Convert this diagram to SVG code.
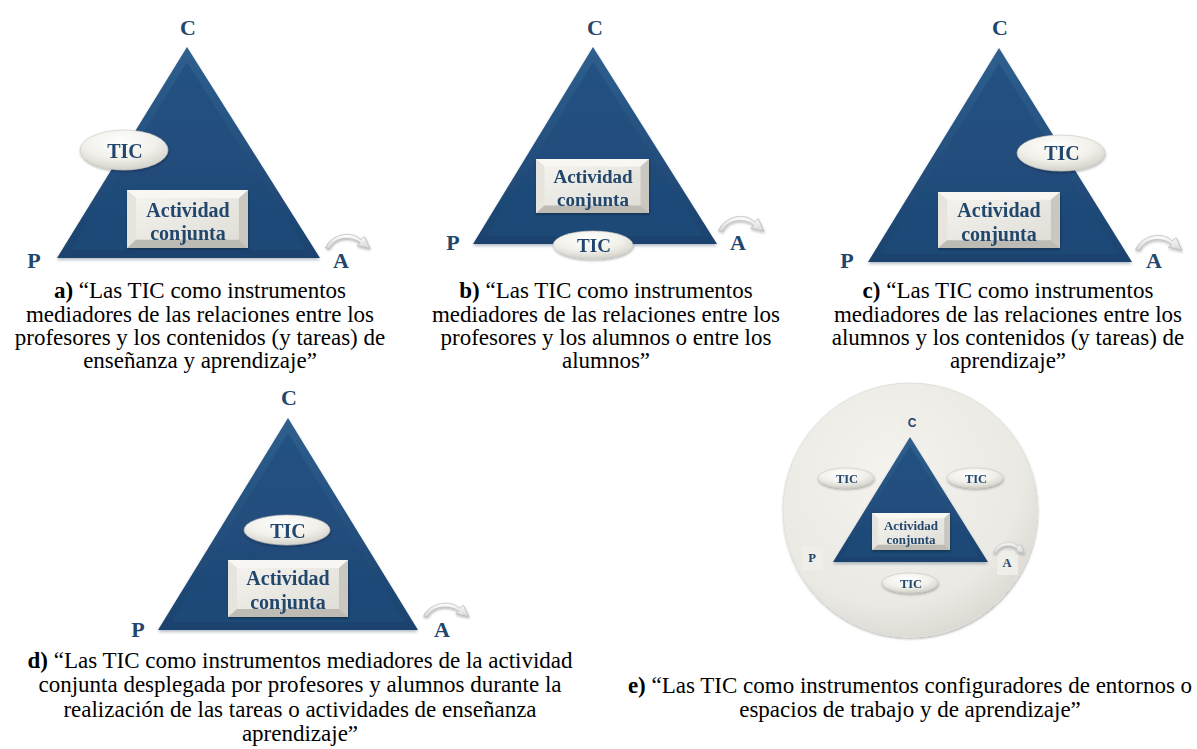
<svg xmlns="http://www.w3.org/2000/svg" width="1197" height="749" viewBox="0 0 1197 749">
<defs>
  <style>
    .cap{font-family:"Liberation Serif","Times New Roman",serif;font-size:23px;fill:#000;text-anchor:middle}
    .b{font-weight:bold}
    .lbl{font-family:"Liberation Serif","Times New Roman",serif;font-weight:bold;fill:#23466d;text-anchor:middle}
    .vtx{font-size:22px}
    .tic{font-size:20px}
    .act{font-size:20px}
    .sm{font-size:12.5px}
    .csans{font-family:"Liberation Sans",Arial,sans-serif;font-weight:bold;fill:#23466d;text-anchor:middle;font-size:12px}
    .tri-out{fill:url(#triOut)}
    .tri-in{fill:url(#triIn)}
    .ell{fill:url(#ellG);stroke:#c8c6bf;stroke-width:0.6}
    .arw{fill:url(#arwG);stroke:#a9a9a9;stroke-width:0.6}
    .lblbg{fill:#efeee9}
  </style>
  <linearGradient id="triOut" x1="0" y1="0" x2="0" y2="1">
    <stop offset="0" stop-color="#2f5f8e"/>
    <stop offset="1" stop-color="#1a426e"/>
  </linearGradient>
  <linearGradient id="triIn" x1="0" y1="0" x2="0" y2="1">
    <stop offset="0" stop-color="#245282"/>
    <stop offset="1" stop-color="#1d4876"/>
  </linearGradient>
  <radialGradient id="ellG" cx="0.45" cy="0.3" r="0.75">
    <stop offset="0" stop-color="#ffffff"/>
    <stop offset="0.55" stop-color="#f1f0ea"/>
    <stop offset="1" stop-color="#cfcdc5"/>
  </radialGradient>
  <linearGradient id="boxC" x1="0" y1="0" x2="1" y2="1">
    <stop offset="0" stop-color="#f6f5f0"/>
    <stop offset="1" stop-color="#dddbd4"/>
  </linearGradient>
  <linearGradient id="arwG" x1="0" y1="0" x2="0" y2="1">
    <stop offset="0" stop-color="#ffffff"/>
    <stop offset="1" stop-color="#d8d8d8"/>
  </linearGradient>
  <radialGradient id="circG" cx="0.42" cy="0.35" r="0.7">
    <stop offset="0" stop-color="#f4f3ef"/>
    <stop offset="0.75" stop-color="#ebe9e3"/>
    <stop offset="1" stop-color="#d9d7d0"/>
  </radialGradient>
  <filter id="sh" x="-10%" y="-10%" width="120%" height="130%">
    <feDropShadow dx="0" dy="2" stdDeviation="1.5" flood-color="#5b6f86" flood-opacity="0.45"/>
  </filter>
  <filter id="shs" x="-20%" y="-20%" width="140%" height="160%">
    <feDropShadow dx="0.5" dy="1.5" stdDeviation="1.2" flood-color="#000" flood-opacity="0.3"/>
  </filter>
  <symbol id="box" viewBox="0 0 120 57" preserveAspectRatio="none">
    <rect x="0" y="0" width="120" height="57" fill="url(#boxC)"/>
    <polygon points="0,0 120,0 111,8 9,8" fill="#f8f7f3"/>
    <polygon points="0,0 9,8 9,49 0,57" fill="#e6e4dd"/>
    <polygon points="120,0 120,57 111,49 111,8" fill="#c9c7c0"/>
    <polygon points="0,57 9,49 111,49 120,57" fill="#bdbbb4"/>
  </symbol>
  <symbol id="arrow" viewBox="0 0 46 20" preserveAspectRatio="none">
    <path class="arw" d="M0.5,17 C6,3 27,-1 35.5,8.5 L39.5,5.5 L45,17.5 L32,14.5 L35,11.8 C27,5 10,5 4.5,17.5 Z"/>
  </symbol>
</defs>
<rect width="1197" height="749" fill="#ffffff"/>

<!-- Panel a -->
<g id="panel-a">
  <g id="a-triangle" filter="url(#sh)">
    <polygon class="tri-out" points="57,258 187,47 320,258"/>
    <polygon class="tri-in" points="71,250 187,62 306,250"/>
  </g>
  <text id="a-C" class="lbl vtx" x="188" y="35">C</text>
  <text id="a-P" class="lbl vtx" x="34" y="268">P</text>
  <text id="a-A" class="lbl vtx" x="341" y="268">A</text>
  <g id="a-tic" filter="url(#shs)">
    <ellipse class="ell" cx="124" cy="150" rx="44" ry="20"/>
    <text class="lbl tic" x="125" y="158">TIC</text>
  </g>
  <g id="a-act" filter="url(#shs)">
    <use href="#box" x="127" y="190" width="121" height="58"/>
    <text class="lbl act" x="188" y="217">Actividad</text>
    <text class="lbl act" x="188" y="240">conjunta</text>
  </g>
  <text class="cap"><tspan x="200" y="298"><tspan class="b">a)</tspan> “Las TIC como instrumentos</tspan><tspan x="200" y="322">mediadores de las relaciones entre los</tspan><tspan x="200" y="345">profesores y los contenidos (y tareas) de</tspan><tspan x="200" y="368">enseñanza y aprendizaje”</tspan></text>
</g>

<!-- Panel b -->
<g id="panel-b">
  <g id="b-triangle" filter="url(#sh)">
    <polygon class="tri-out" points="473,244 593,47 717,244"/>
    <polygon class="tri-in" points="487,236 593,62 703,236"/>
  </g>
  <text id="b-C" class="lbl vtx" x="595" y="35">C</text>
  <text id="b-P" class="lbl vtx" x="453" y="250">P</text>
  <text id="b-A" class="lbl vtx" x="738" y="250">A</text>
  <g id="b-act" filter="url(#shs)">
    <use href="#box" x="536" y="159" width="113" height="54"/>
    <text class="lbl" style="font-size:19px" x="593" y="183">Actividad</text>
    <text class="lbl" style="font-size:19px" x="593" y="206">conjunta</text>
  </g>
  <g id="b-tic" filter="url(#shs)">
    <ellipse class="ell" cx="593" cy="245" rx="40" ry="14"/>
    <text class="lbl" style="font-size:19px" x="594" y="252">TIC</text>
  </g>
  <text class="cap"><tspan x="606" y="298"><tspan class="b">b)</tspan> “Las TIC como instrumentos</tspan><tspan x="606" y="322">mediadores de las relaciones entre los</tspan><tspan x="606" y="345">profesores y los alumnos o entre los</tspan><tspan x="606" y="368">alumnos”</tspan></text>
</g>

<!-- Panel c -->
<g id="panel-c">
  <g id="c-triangle" filter="url(#sh)">
    <polygon class="tri-out" points="868,262 999,48 1132,262"/>
    <polygon class="tri-in" points="882,254 999,63 1118,254"/>
  </g>
  <text id="c-C" class="lbl vtx" x="1000" y="35">C</text>
  <text id="c-P" class="lbl vtx" x="847" y="268">P</text>
  <text id="c-A" class="lbl vtx" x="1154" y="268">A</text>
  <g id="c-tic" filter="url(#shs)">
    <ellipse class="ell" cx="1061" cy="153" rx="44" ry="18"/>
    <text class="lbl tic" x="1062" y="160">TIC</text>
  </g>
  <g id="c-act" filter="url(#shs)">
    <use href="#box" x="938" y="192" width="122" height="56"/>
    <text class="lbl act" x="999" y="217">Actividad</text>
    <text class="lbl act" x="999" y="241">conjunta</text>
  </g>
  <text class="cap"><tspan x="1008" y="298"><tspan class="b">c)</tspan> “Las TIC como instrumentos</tspan><tspan x="1008" y="322">mediadores de las relaciones entre los</tspan><tspan x="1008" y="345">alumnos y los contenidos (y tareas) de</tspan><tspan x="1008" y="368">aprendizaje”</tspan></text>
</g>

<!-- Panel d -->
<g id="panel-d">
  <g id="d-triangle" filter="url(#sh)">
    <polygon class="tri-out" points="158,630 288,418 418,630"/>
    <polygon class="tri-in" points="172,622 288,433 404,622"/>
  </g>
  <text id="d-C" class="lbl vtx" x="289" y="405">C</text>
  <text id="d-P" class="lbl vtx" x="138" y="637">P</text>
  <text id="d-A" class="lbl vtx" x="442" y="637">A</text>
  <g id="d-tic" filter="url(#shs)">
    <ellipse class="ell" cx="287" cy="530" rx="43" ry="15"/>
    <text class="lbl tic" x="288" y="538">TIC</text>
  </g>
  <g id="d-act" filter="url(#shs)">
    <use href="#box" x="228" y="560" width="120" height="57"/>
    <text class="lbl act" x="288" y="585">Actividad</text>
    <text class="lbl act" x="288" y="609">conjunta</text>
  </g>
  <text class="cap"><tspan x="300" y="668"><tspan class="b">d)</tspan> “Las TIC como instrumentos mediadores de la actividad</tspan><tspan x="300" y="692">conjunta desplegada por profesores y alumnos durante la</tspan><tspan x="300" y="717">realización de las tareas o actividades de enseñanza</tspan><tspan x="300" y="741">aprendizaje”</tspan></text>
</g>

<!-- Panel e -->
<g id="panel-e">
  <g id="e-circle" filter="url(#shs)">
    <circle cx="910" cy="510" r="127" fill="url(#circG)" stroke="#e2e0da" stroke-width="1"/>
  </g>
  <g id="e-triangle" filter="url(#sh)">
    <polygon class="tri-out" points="833,562 910,437 988,562"/>
    <polygon class="tri-in" points="842,557 910,446 979,557"/>
  </g>
  <g id="e-C">
    <rect class="lblbg" x="900" y="410" width="25" height="24"/>
    <text class="csans" x="912" y="427">C</text>
  </g>
  <g id="e-P">
    <rect class="lblbg" x="802" y="546" width="21" height="24"/>
    <text class="lbl sm" x="812" y="562">P</text>
  </g>
  <g id="e-A">
    <rect class="lblbg" x="997" y="551" width="21" height="24"/>
    <text class="lbl sm" x="1007" y="567">A</text>
  </g>
  <g id="e-tic-left" filter="url(#shs)">
    <ellipse class="ell" cx="846" cy="478" rx="28" ry="10"/>
    <text class="lbl sm" x="847" y="482.5">TIC</text>
  </g>
  <g id="e-tic-right" filter="url(#shs)">
    <ellipse class="ell" cx="975" cy="478" rx="28" ry="10"/>
    <text class="lbl sm" x="976" y="482.5">TIC</text>
  </g>
  <g id="e-tic-bottom" filter="url(#shs)">
    <ellipse class="ell" cx="910" cy="583" rx="28" ry="10"/>
    <text class="lbl sm" x="911" y="587.5">TIC</text>
  </g>
  <g id="e-act" filter="url(#shs)">
    <use href="#box" x="872" y="513" width="78" height="37"/>
    <text class="lbl" style="font-size:13px" x="911" y="530">Actividad</text>
    <text class="lbl" style="font-size:13px" x="911" y="544">conjunta</text>
  </g>
  <text class="cap"><tspan x="910" y="693"><tspan class="b">e)</tspan> “Las TIC como instrumentos configuradores de entornos o</tspan><tspan x="910" y="717">espacios de trabajo y de aprendizaje”</tspan></text>
</g>

<!-- curved arrows -->
<g id="connectors" filter="url(#shs)">
  <use href="#arrow" x="325" y="231" width="46" height="20"/>
  <use href="#arrow" x="718" y="213" width="47" height="21"/>
  <use href="#arrow" x="1135" y="232" width="48" height="21"/>
  <use href="#arrow" x="423" y="600" width="47" height="19"/>
  <use href="#arrow" x="993" y="540" width="32" height="15"/>
</g>
</svg>
